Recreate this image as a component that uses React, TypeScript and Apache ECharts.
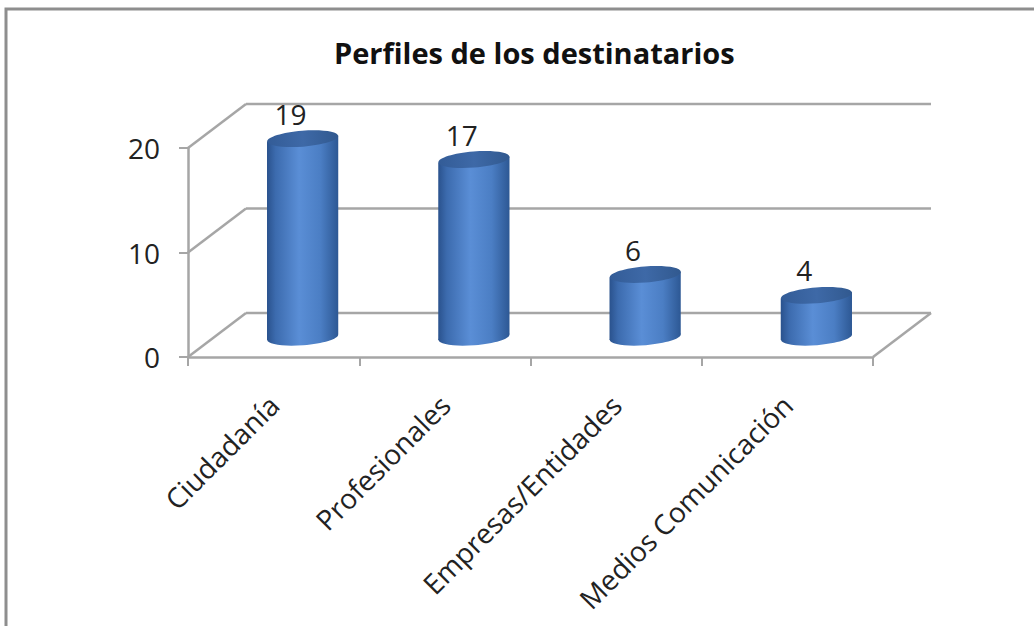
import React, { useEffect, useRef } from "react";
import * as echarts from "echarts";

const TITLE = "Perfiles de los destinatarios";
const CATEGORIES = ["Ciudadanía", "Profesionales", "Empresas/Entidades", "Medios Comunicación"];
const VALUES = [19, 17, 6, 4];
const Y_MIN = 0;
const Y_MAX = 20;
const Y_INTERVAL = 10;
const Y_TICKS = [0, 10, 20];

const DX = 58;
const DY = -44;
const GRID_COLOR = "#A6A6A6";
const FONT = "'Open Sans', 'DejaVu Sans', sans-serif";

export default function App() {
  const ref = useRef<HTMLDivElement>(null);

  useEffect(() => {
    if (!ref.current) return;
    const chart = echarts.init(ref.current, undefined, { renderer: "svg" });

    const bodyGradient = {
      type: "linear",
      x: 0,
      y: 0,
      x2: 1,
      y2: 0,
      colorStops: [
        { offset: 0, color: "#2A528D" },
        { offset: 0.12, color: "#3C6BAE" },
        { offset: 0.45, color: "#5A8ED6" },
        { offset: 0.75, color: "#4B7EC4" },
        { offset: 1, color: "#2D5894" },
      ],
    };
    const topGradient = {
      type: "linear",
      x: 0,
      y: 0,
      x2: 1,
      y2: 0,
      colorStops: [
        { offset: 0, color: "#335C97" },
        { offset: 0.5, color: "#3E69A7" },
        { offset: 1, color: "#31598F" },
      ],
    };

    const option: any = {
      animation: false,
      backgroundColor: "#ffffff",
      title: {
        text: TITLE,
        left: 329,
        top: 33,
        textStyle: {
          fontFamily: FONT,
          fontWeight: "bold",
          fontSize: 29,
          color: "#111111",
        },
      },
      graphic: [
        {
          type: "rect",
          shape: { x: 6, y: 9, width: 1200, height: 800 },
          style: { fill: "none", stroke: "#8E8E8E", lineWidth: 3 },
          silent: true,
        },
      ],
      grid: { left: 188, right: 161, top: 148, bottom: 269 },
      xAxis: {
        type: "category",
        data: CATEGORIES,
        axisLine: { show: true, lineStyle: { color: GRID_COLOR, width: 2.5 } },
        axisTick: { show: true, length: 9, lineStyle: { color: GRID_COLOR, width: 2 } },
        axisLabel: {
          rotate: 45,
          interval: 0,
          margin: 43,
          fontFamily: FONT,
          fontSize: 28,
          color: "#222222",
        },
        splitLine: { show: false },
      },
      yAxis: {
        type: "value",
        min: Y_MIN,
        max: Y_MAX,
        interval: Y_INTERVAL,
        axisLine: { show: true, lineStyle: { color: GRID_COLOR, width: 2.5 } },
        axisTick: { show: true, length: 9, lineStyle: { color: GRID_COLOR, width: 2 } },
        axisLabel: {
          margin: 28,
          fontFamily: FONT,
          fontSize: 28,
          color: "#222222",
        },
        splitLine: { show: false },
      },
      series: [
        {
          type: "custom",
          z: 1,
          silent: true,
          data: [0],
          renderItem: (params: any, api: any) => {
            const cs = params.coordSys;
            const left = cs.x;
            const right = cs.x + cs.width;
            const children: any[] = [];
            const ls = { stroke: GRID_COLOR, lineWidth: 2.5 };
            Y_TICKS.forEach((t) => {
              const y = api.coord([0, t])[1];
              children.push({
                type: "line",
                shape: { x1: left, y1: y, x2: left + DX, y2: y + DY },
                style: ls,
              });
              children.push({
                type: "line",
                shape: { x1: left + DX, y1: y + DY, x2: right + DX, y2: y + DY },
                style: ls,
              });
            });
            const y0 = api.coord([0, 0])[1];
            children.push({
              type: "line",
              shape: { x1: right, y1: y0, x2: right + DX, y2: y0 + DY },
              style: ls,
            });
            return { type: "group", children };
          },
        },
        {
          type: "custom",
          z: 5,
          data: VALUES.map((v, i) => [i, v]),
          encode: { x: 0, y: 1 },
          renderItem: (params: any, api: any) => {
            const idx = api.value(0);
            const val = api.value(1);
            const base = api.coord([idx, 0]);
            const top = api.coord([idx, val]);
            const band = api.size([1, 0])[0];
            const rx = band * 0.208;
            const ry = 8;
            const cx = base[0] + DX * 0.5;
            const by = base[1] + DY * 0.45;
            const ty = top[1] + DY * 0.45;
            const rot = 0.08;
            const s = rx * Math.sin(rot);
            return {
              type: "group",
              children: [
                {
                  type: "ellipse",
                  shape: { cx, cy: by, rx, ry },
                  rotation: rot,
                  originX: cx,
                  originY: by,
                  style: { fill: bodyGradient },
                },
                {
                  type: "polygon",
                  shape: {
                    points: [
                      [cx - rx, ty + s],
                      [cx + rx, ty - s],
                      [cx + rx, by - s],
                      [cx - rx, by + s],
                    ],
                  },
                  style: { fill: bodyGradient },
                },
                {
                  type: "ellipse",
                  shape: { cx, cy: ty, rx, ry },
                  rotation: rot,
                  originX: cx,
                  originY: ty,
                  style: { fill: topGradient },
                },
                {
                  type: "text",
                  style: {
                    text: String(val),
                    x: cx - 12,
                    y: ty - 25,
                    align: "center",
                    verticalAlign: "middle",
                    fontFamily: FONT,
                    fontSize: 28,
                    fill: "#222222",
                  },
                },
              ],
            };
          },
        },
      ],
    };

    chart.setOption(option);
    return () => chart.dispose();
  }, []);

  return (
    <div
      ref={ref}
      style={{ position: "fixed", left: 0, top: 0, width: 1034, height: 626 }}
    />
  );
}
